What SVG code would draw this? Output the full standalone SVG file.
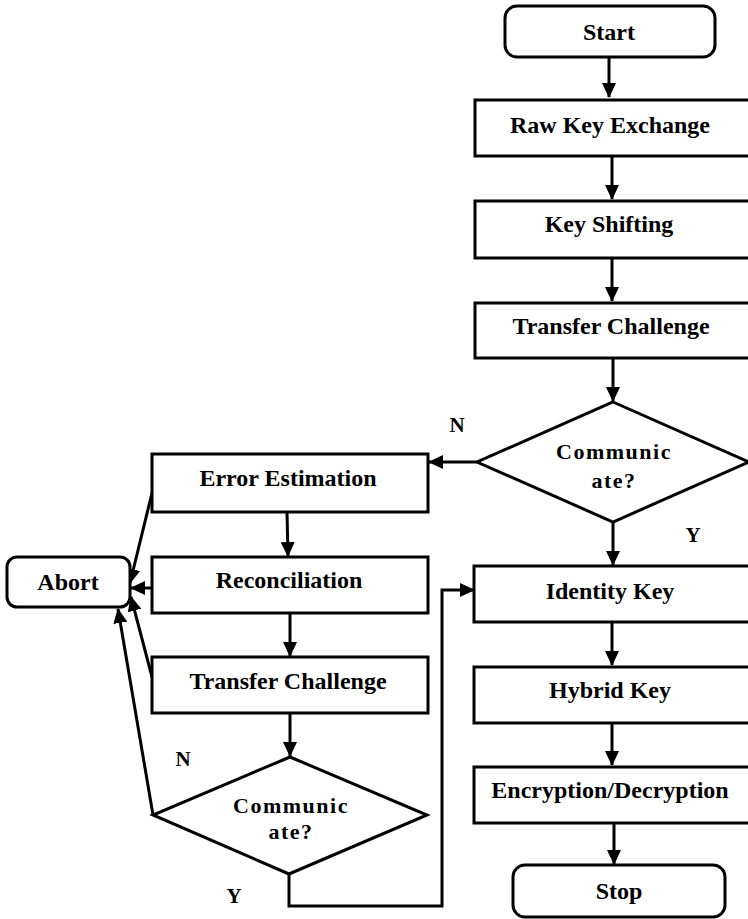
<svg xmlns="http://www.w3.org/2000/svg" width="748" height="919" viewBox="0 0 748 919">
<style>
.box{fill:#fff;stroke:#000;stroke-width:3}
.t{font-family:"Liberation Serif","Times New Roman",serif;font-weight:bold;font-size:24px;text-anchor:middle;fill:#000}
.d{font-family:"Liberation Serif","Times New Roman",serif;font-weight:bold;font-size:22px;text-anchor:middle;fill:#000;letter-spacing:1.5px}
.l{font-family:"Liberation Serif","Times New Roman",serif;font-weight:bold;font-size:21px;text-anchor:middle;fill:#000}
.c{fill:none;stroke:#000;stroke-width:3}
</style>
<defs>
<marker id="ah" markerUnits="userSpaceOnUse" markerWidth="16" markerHeight="16" viewBox="0 0 16 16" refX="14" refY="8" orient="auto">
<path d="M0,1 L15,8 L0,15 Z" fill="#000"/>
</marker>
</defs>
<rect width="748" height="919" fill="#fff"/>
<g id="connectors">
<path class="c" d="M609,57 V97" marker-end="url(#ah)"/>
<path class="c" d="M612,156 V199" marker-end="url(#ah)"/>
<path class="c" d="M612,258 V301" marker-end="url(#ah)"/>
<path class="c" d="M613,358 V401" marker-end="url(#ah)"/>
<path class="c" d="M477,462 H429" marker-end="url(#ah)"/>
<path class="c" d="M613,522 V565" marker-end="url(#ah)"/>
<path class="c" d="M612,622 V665" marker-end="url(#ah)"/>
<path class="c" d="M612,723 V765" marker-end="url(#ah)"/>
<path class="c" d="M614,823 V864" marker-end="url(#ah)"/>
<path class="c" d="M287,512 L288,556" marker-end="url(#ah)"/>
<path class="c" d="M290,613 V656" marker-end="url(#ah)"/>
<path class="c" d="M290,713 V756" marker-end="url(#ah)"/>
<path class="c" d="M152,493 L130,583" marker-end="url(#ah)"/>
<path class="c" d="M152,588 H131" marker-end="url(#ah)"/>
<path class="c" d="M152,677 L131,597" marker-end="url(#ah)"/>
<path class="c" d="M153,815 L118,609" marker-end="url(#ah)"/>
<path class="c" d="M289,874 V906 H442 V590 H474" marker-end="url(#ah)"/>
</g>
<g id="start"><rect class="box" x="505" y="6" width="210" height="51" rx="12"/><text class="t" x="609" y="40">Start</text></g>
<g id="raw"><rect class="box" x="475" y="100" width="285" height="56"/><text class="t" x="610" y="133">Raw Key Exchange</text></g>
<g id="shift"><rect class="box" x="475" y="201" width="285" height="57"/><text class="t" x="609" y="232">Key Shifting</text></g>
<g id="transfer1"><rect class="box" x="475" y="303" width="285" height="55"/><text class="t" x="611" y="334">Transfer Challenge</text></g>
<g id="decision1"><path class="box" d="M613,402 L749,462 L613,522 L477,462 Z"/><text class="d" x="614" y="459">Communic</text><text class="d" x="614" y="488">ate?</text></g>
<g id="error"><rect class="box" x="152" y="454" width="276" height="58"/><text class="t" x="288" y="486">Error Estimation</text></g>
<g id="recon"><rect class="box" x="152" y="557" width="276" height="56"/><text class="t" x="289" y="588">Reconciliation</text></g>
<g id="transfer2"><rect class="box" x="152" y="657" width="276" height="56"/><text class="t" x="288" y="689">Transfer Challenge</text></g>
<g id="abort"><rect class="box" x="7" y="557" width="123" height="50" rx="10"/><text class="t" x="68" y="590">Abort</text></g>
<g id="decision2"><path class="box" d="M290,757 L427,815 L289,874 L153,815 Z"/><text class="d" x="291" y="813">Communic</text><text class="d" x="291" y="839">ate?</text></g>
<g id="identity"><rect class="box" x="474" y="566" width="286" height="56"/><text class="t" x="610" y="599">Identity Key</text></g>
<g id="hybrid"><rect class="box" x="474" y="667" width="286" height="56"/><text class="t" x="610" y="698">Hybrid Key</text></g>
<g id="enc"><rect class="box" x="474" y="767" width="286" height="56"/><text class="t" x="610" y="798">Encryption/Decryption</text></g>
<g id="stop"><rect class="box" x="513" y="865" width="212" height="52" rx="12"/><text class="t" x="619" y="899">Stop</text></g>
<g id="labels">
<text class="l" x="457" y="432">N</text>
<text class="l" x="693" y="542">Y</text>
<text class="l" x="183" y="766">N</text>
<text class="l" x="234" y="903">Y</text>
</g>
</svg>
